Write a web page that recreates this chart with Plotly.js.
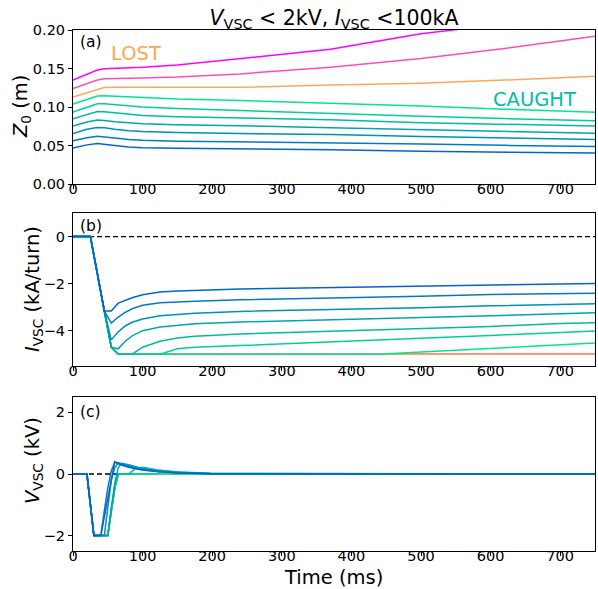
<!DOCTYPE html>
<html>
<head>
<meta charset="utf-8">
<script src="https://cdn.plot.ly/plotly-3.0.1.min.js"></script>
<style>html,body{margin:0;padding:0;background:#fff;}#chart{width:598px;height:589px;}</style>
</head>
<body>
<div id="chart"></div>
<script>
// ---------- Data ----------
// Panel (a): Z0 (m) vs time (ms)
const tZ = [0, 20, 35, 45, 60, 80, 100, 150, 240, 370, 500, 620, 750];
const zMagenta = [0.1350, 0.1430, 0.1480, 0.1496, 0.1502, 0.1508, 0.1515, 0.1545, 0.1625, 0.1750, 0.1950, 0.2080, 0.2250];
const zPink    = [0.1240, 0.1300, 0.1350, 0.1367, 0.1372, 0.1375, 0.1378, 0.1390, 0.1430, 0.1517, 0.1630, 0.1760, 0.1920];
const zOrange  = [0.1130, 0.1185, 0.1235, 0.1253, 0.1256, 0.1255, 0.1254, 0.1253, 0.1255, 0.1286, 0.1310, 0.1350, 0.1400];
const zG1 = [0.1037, 0.1100, 0.1143, 0.1146, 0.1140, 0.1128, 0.1118, 0.1103, 0.1085, 0.1050, 0.1014, 0.0972, 0.0932];
const zG2 = [0.0936, 0.0995, 0.1043, 0.1042, 0.1030, 0.1012, 0.1000, 0.0980, 0.0953, 0.0918, 0.0881, 0.0850, 0.0822];
const zG3 = [0.0848, 0.0905, 0.0940, 0.0937, 0.0922, 0.0902, 0.0890, 0.0873, 0.0860, 0.0835, 0.0797, 0.0772, 0.0752];
const zG4 = [0.0752, 0.0805, 0.0830, 0.0826, 0.0810, 0.0792, 0.0782, 0.0770, 0.0758, 0.0730, 0.0704, 0.0680, 0.0660];
const zG5 = [0.0656, 0.0710, 0.0735, 0.0730, 0.0712, 0.0692, 0.0682, 0.0668, 0.0655, 0.0643, 0.0618, 0.0596, 0.0577];
const zG6 = [0.0560, 0.0600, 0.0620, 0.0615, 0.0598, 0.0578, 0.0568, 0.0556, 0.0548, 0.0533, 0.0519, 0.0502, 0.0486];
const zG7 = [0.0467, 0.0508, 0.0525, 0.0518, 0.0500, 0.0482, 0.0472, 0.0463, 0.0456, 0.0446, 0.0424, 0.0412, 0.0402];

// Panel (b): I_VSC (kA/turn) vs time (ms)
const tI = [0, 25, 45, 55, 65, 75, 85, 100, 125, 150, 175, 240, 400, 440, 500, 600, 700, 750];
const iLost = [0, 0, -3.16, -4.70, -5, -5, -5, -5, -5, -5, -5, -5, -5, -5, -5, -5, -5, -5];
const iG1 = [0, 0, -3.16, -4.70, -5, -5, -5, -5, -5, -5, -5, -5, -5, -5, -4.91, -4.76, -4.60, -4.52];
const iG2 = [0, 0, -3.16, -4.70, -5, -5, -5, -5, -5, -4.77, -4.70, -4.63, -4.42, -4.39, -4.32, -4.20, -4.06, -4.01];
const iG3 = [0, 0, -3.16, -4.70, -5, -5, -5, -4.70, -4.45, -4.31, -4.24, -4.14, -4.01, -3.98, -3.92, -3.82, -3.69, -3.66];
const iG4 = [0, 0, -3.16, -4.70, -4.77, -4.45, -4.22, -4.00, -3.84, -3.76, -3.71, -3.63, -3.52, -3.50, -3.45, -3.37, -3.28, -3.24];
const iG5 = [0, 0, -3.16, -4.39, -4.05, -3.80, -3.64, -3.50, -3.37, -3.30, -3.26, -3.18, -3.10, -3.08, -3.03, -2.94, -2.87, -2.86];
const iG6 = [0, 0, -3.16, -3.68, -3.42, -3.22, -3.07, -2.92, -2.81, -2.77, -2.75, -2.69, -2.61, -2.59, -2.54, -2.46, -2.42, -2.41];
const iG7 = [0, 0, -3.16, -3.16, -2.83, -2.70, -2.60, -2.47, -2.36, -2.31, -2.28, -2.23, -2.15, -2.13, -2.10, -2.06, -2.00, -1.99];

// Panel (c): V_VSC (kV) vs time (ms)
const tV = [0, 20, 30, 40, 45, 50, 55, 60, 65, 70, 80, 90, 100, 120, 130, 150, 200, 750];
const vLost = [0, 0, -2, -2, -2, -2, -1.2, -0.45, 0, 0, 0, 0, 0, 0, 0, 0, 0, 0];
const vG1 = [0, 0, -2, -2, -2, -2, -1.2, -0.45, 0, 0, 0, 0, 0, 0, 0, 0, 0, 0];
const vG2 = [0, 0, -2, -2, -2, -2, -1.2, -0.45, 0, 0, 0, 0, 0, 0, 0.10, 0.07, 0.02, 0];
const vG3 = [0, 0, -2, -2, -2, -2, -1.2, -0.45, 0, 0, 0, 0.18, 0.22, 0.14, 0.11, 0.06, 0.015, 0];
const vG4 = [0, 0, -2, -2, -2, -2, -1.1, -0.3, 0.2, 0.35, 0.30, 0.23, 0.18, 0.11, 0.09, 0.05, 0.01, 0];
const vG5 = [0, 0, -2, -2, -2, -1.1, -0.2, 0.2, 0.36, 0.33, 0.26, 0.20, 0.16, 0.10, 0.08, 0.05, 0.01, 0];
const vG6 = [0, 0, -2, -2, -1.2, -0.45, 0.1, 0.38, 0.34, 0.30, 0.23, 0.18, 0.14, 0.09, 0.07, 0.04, 0.01, 0];
const vG7 = [0, 0, -2, -2, -1.4, -0.8, -0.2, 0.40, 0.34, 0.29, 0.22, 0.17, 0.13, 0.08, 0.06, 0.03, 0.005, 0];

const xTicks = [0, 100, 200, 300, 400, 500, 600, 700];
const yTicksA = [0, 0.05, 0.10, 0.15, 0.20];
const yTicksB = [-4, -2, 0];
const yTicksC = [-2, 0, 2];

// ---------- Styling ----------
const lostColors = ['rgb(255,0,255)', 'rgb(255,77,178)', 'rgb(255,166,89)'];
const caughtColors = ['rgb(0,230,140)', 'rgb(0,208,151)', 'rgb(0,187,161)', 'rgb(0,166,172)',
                      'rgb(0,145,183)', 'rgb(0,123,193)', 'rgb(0,102,204)'];
const FONT = 'DejaVu Sans, sans-serif';
const LW = 1.5;
const W = 598, H = 589, ML = 73, MR = 3, MT = 30, MB = 38;
const PW = W - ML - MR, PH = H - MT - MB;
const px2x = p => (p - ML) / PW;          // pixel x -> paper x
const px2y = p => (H - MB - p) / PH;      // pixel y -> paper y

const zLost = [zMagenta, zPink, zOrange];
const zCaught = [zG1, zG2, zG3, zG4, zG5, zG6, zG7];
const iCaught = [iG1, iG2, iG3, iG4, iG5, iG6, iG7];
const vCaught = [vG1, vG2, vG3, vG4, vG5, vG6, vG7];

const traces = [];
function add(x, y, color, xa, ya) {
  traces.push({x: x, y: y, type: 'scatter', mode: 'lines', xaxis: xa, yaxis: ya,
    line: {color: color, width: LW}, hoverinfo: 'skip', showlegend: false});
}
zLost.forEach((z, k) => add(tZ, z, lostColors[k], 'x', 'y'));
zCaught.forEach((z, k) => add(tZ, z, caughtColors[k], 'x', 'y'));
lostColors.forEach(c => add(tI, iLost, c, 'x2', 'y2'));
iCaught.forEach((v, k) => add(tI, v, caughtColors[k], 'x2', 'y2'));
lostColors.forEach(c => add(tV, vLost, c, 'x3', 'y3'));
vCaught.forEach((v, k) => add(tV, v, caughtColors[k], 'x3', 'y3'));

const baseAxis = {
  showline: true, mirror: true, linecolor: '#000', linewidth: 1,
  ticks: 'outside', ticklen: 4, tickwidth: 1, tickcolor: '#000',
  showgrid: false, zeroline: false,
  tickfont: {family: FONT, size: 14.5, color: '#000'}
};
const titleFont = {family: FONT, size: 19.5, color: '#000'};

function xa(anchor) {
  return Object.assign({}, baseAxis, {anchor: anchor, domain: [0, 1], range: [0, 750],
    tickmode: 'array', tickvals: xTicks, ticklen: 3.5, ticklabelstandoff: -12});
}
function ya(anchor, domain, range, ticks, extra) {
  return Object.assign({}, baseAxis, {anchor: anchor, domain: domain, range: range,
    tickmode: 'array', tickvals: ticks}, extra || {});
}
function ytitle(text, pxX, pxY) {
  return {text: text, xref: 'paper', yref: 'paper', x: px2x(pxX), y: px2y(pxY),
    xanchor: 'center', yanchor: 'middle', textangle: -90, showarrow: false, font: titleFont};
}
function lab(text, xr, yr, x, y, size, color) {
  return {text: text, xref: xr, yref: yr, x: x, y: y, xanchor: 'left', yanchor: 'middle',
    showarrow: false, font: {family: FONT, size: size, color: color}};
}

const layout = {
  width: W, height: H,
  margin: {l: ML, r: MR, t: MT, b: MB},
  paper_bgcolor: '#fff', plot_bgcolor: '#fff',
  showlegend: false,
  font: {family: FONT, color: '#000'},
  title: {
    text: '<i>V</i><sub>VSC</sub> &lt; 2kV, <i>I</i><sub>VSC</sub> &lt;100kA',
    font: {family: FONT, size: 20.5, color: '#000'}, x: 0.5, xanchor: 'center', xref: 'paper',
    y: 1 - 18 / H, yanchor: 'middle', yref: 'container'
  },
  xaxis: xa('y'),
  yaxis: ya('x', [px2y(184), 1], [0, 0.2], yTicksA, {tickformat: '.2f'}),
  xaxis2: xa('y2'),
  yaxis2: ya('x2', [px2y(366), px2y(213)], [-5.5, 1], yTicksB),
  xaxis3: xa('y3'),
  yaxis3: ya('x3', [0, px2y(397)], [-2.5, 2.5], yTicksC),
  shapes: [
    {type: 'line', xref: 'x2 domain', yref: 'y2', x0: 0, x1: 1, y0: 0, y1: 0,
     line: {color: '#000', width: 1.3, dash: '5px,3px'}, layer: 'below'},
    {type: 'line', xref: 'x3 domain', yref: 'y3', x0: 0, x1: 1, y0: 0, y1: 0,
     line: {color: '#000', width: 1.3, dash: '5px,3px'}, layer: 'below'}
  ],
  annotations: [
    ytitle('<i>Z</i><sub>0</sub> (m)', 21, 107),
    ytitle('<i>I</i><sub>VSC</sub> (kA/turn)', 33, 289),
    ytitle('<i>V</i><sub>VSC</sub> (kV)', 33, 461),
    {text: 'Time (ms)', xref: 'paper', yref: 'paper', x: px2x(333.5), y: px2y(577),
     xanchor: 'center', yanchor: 'middle', showarrow: false, borderpad: 0, font: titleFont},
    lab('(a)', 'x', 'y', 7, 0.1841, 15.5, '#000'),
    lab('(b)', 'x2', 'y2', 7, 0.46, 15.5, '#000'),
    lab('(c)', 'x3', 'y3', 7, 2.02, 15.5, '#000'),
    lab('LOST', 'x', 'y', 51, 0.1701, 19.5, 'rgb(255,166,77)'),
    lab('CAUGHT', 'x', 'y', 601, 0.1097, 19.5, 'rgb(0,191,159)')
  ]
};

Plotly.newPlot('chart', traces, layout, {staticPlot: true, displayModeBar: false});
</script>
</body>
</html>
